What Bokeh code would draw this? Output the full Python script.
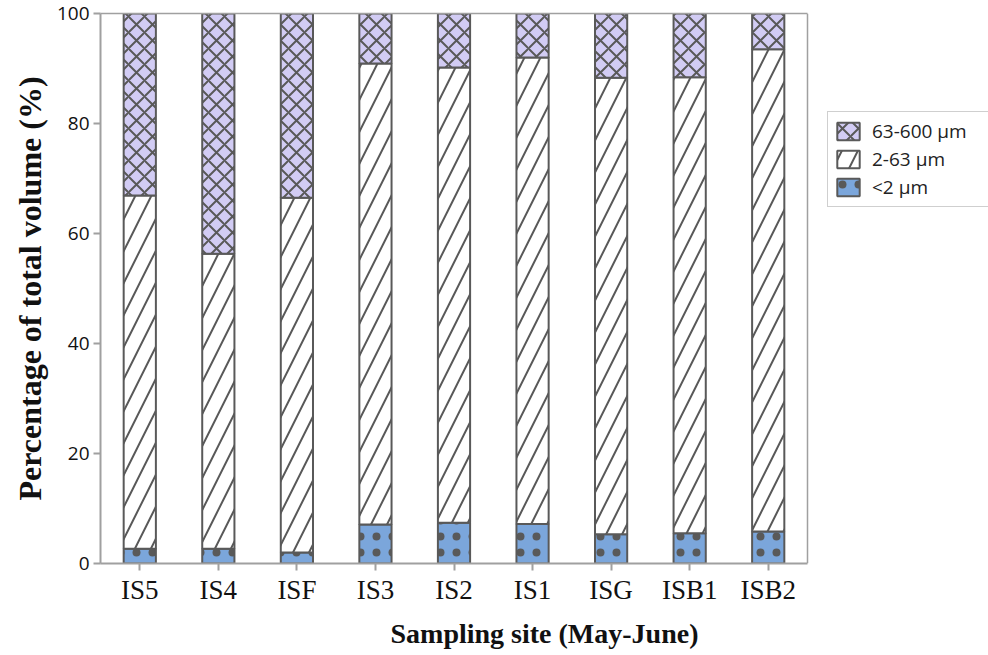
from bokeh.plotting import figure
from bokeh.models import (Range1d, FixedTicker, Legend, LegendItem, LinearAxis,
                          ColumnDataSource, Span)
from bokeh.embed import file_html
from bokeh.resources import INLINE

# ---- data (percent of total volume) ----
sites = ["IS5", "IS4", "ISF", "IS3", "IS2", "IS1", "ISG", "ISB1", "ISB2"]
clay = [2.7, 2.7, 2.0, 7.1, 7.4, 7.2, 5.3, 5.5, 5.8]          # <2 µm
silt = [64.2, 53.6, 64.5, 83.8, 82.8, 84.8, 83.0, 82.9, 87.7]  # 2-63 µm
sand = [33.1, 43.7, 33.5, 9.1, 9.8, 8.0, 11.7, 11.6, 6.5]      # 63-600 µm
series_names = ["<2 μm", "2-63 μm", "63-600 μm"]
y_ticks = [0, 20, 40, 60, 80, 100]

pos = list(range(len(sites)))
src = ColumnDataSource(dict(pos=pos, clay=clay, silt=silt, sand=sand))

W, H = 988, 654
LEFT, PLOT_W = 100, 707           # bar area (pixels)
FRAME_W = W - LEFT                # frame also hosts the legend
n = len(sites)
x_end = -0.5 + n * FRAME_W / PLOT_W

p = figure(x_range=Range1d(-0.5, x_end), y_range=Range1d(0, 100),
           width=W, height=H, output_backend="svg", toolbar_location=None,
           min_border_left=LEFT, min_border_right=0, min_border_top=13,
           min_border_bottom=H - 563)
p.xgrid.visible = False
p.ygrid.visible = False
p.outline_line_color = None
p.background_fill_color = "white"
p.border_fill_color = "white"

rs = p.vbar_stack(["clay", "silt", "sand"], x="pos", width=0.41, source=src,
                  fill_color=["#7ba6db", "white", "#d2ccf4"],
                  line_color="#595959", line_width=2,
                  hatch_pattern=[".", "/", "x"], hatch_color="#595959",
                  hatch_scale=[16, 32, 16], hatch_weight=[1, 2, 2])

GRAY = "#a0a0a0"
# axes
for ax in (p.xaxis[0], p.yaxis[0]):
    ax.axis_line_color = GRAY
    ax.axis_line_width = 2
    ax.major_tick_line_color = GRAY
    ax.major_tick_line_width = 2
    ax.major_tick_in = 0
    ax.major_tick_out = 7
    ax.minor_tick_line_color = None
    ax.major_label_text_color = "#111111"

p.yaxis.ticker = FixedTicker(ticks=y_ticks)
p.yaxis.major_label_text_font = "Open Sans"
p.yaxis.major_label_text_font_size = "19px"
p.yaxis.major_label_standoff = 4
p.yaxis.axis_label = "Percentage of total volume (%)"
p.yaxis.axis_label_text_font = "Liberation Serif"
p.yaxis.axis_label_text_font_style = "bold"
p.yaxis.axis_label_text_font_size = "32px"
p.yaxis.axis_label_text_color = "#111111"
p.yaxis.axis_label_standoff = 6

p.xaxis.bounds = (-0.5, n - 0.5)
p.xaxis.ticker = FixedTicker(ticks=pos)
p.xaxis.major_label_overrides = {i: s for i, s in zip(pos, sites)}
p.xaxis.major_label_text_font = "Liberation Serif"
p.xaxis.major_label_text_font_size = "27px"
p.xaxis.major_label_standoff = 4
p.xaxis.axis_label = "Sampling site (May-June)"
p.xaxis.axis_label_text_font = "Liberation Serif"
p.xaxis.axis_label_text_font_style = "bold"
p.xaxis.axis_label_text_font_size = "28px"
p.xaxis.axis_label_text_color = "#111111"
p.xaxis.axis_label_standoff = 10

# plot-area border (top and right)
top = LinearAxis(bounds=(-0.5, n - 0.5), ticker=FixedTicker(ticks=[]),
                 axis_line_color=GRAY, axis_line_width=1.5,
                 major_tick_line_color=None, minor_tick_line_color=None,
                 major_label_text_font_size="0px")
p.add_layout(top, "above")
p.add_layout(Span(location=n - 0.5, dimension="height", line_color=GRAY,
                  line_width=1.5))

legend = Legend(items=[LegendItem(label=series_names[2], renderers=[rs[2]]),
                       LegendItem(label=series_names[1], renderers=[rs[1]]),
                       LegendItem(label=series_names[0], renderers=[rs[0]])],
                location=(PLOT_W + 20, 356))
legend.label_text_font = "Open Sans"
legend.label_text_font_size = "19px"
legend.label_text_color = "#222222"
legend.glyph_width = 28
legend.glyph_height = 22
legend.label_height = 24
legend.label_width = 125
legend.label_standoff = 10
legend.spacing = 2
legend.padding = 6
legend.margin = 0
legend.border_line_color = GRAY
legend.border_line_width = 1.5
legend.background_fill_color = "white"
p.add_layout(legend)

open("out.html", "w").write(file_html(p, INLINE))
